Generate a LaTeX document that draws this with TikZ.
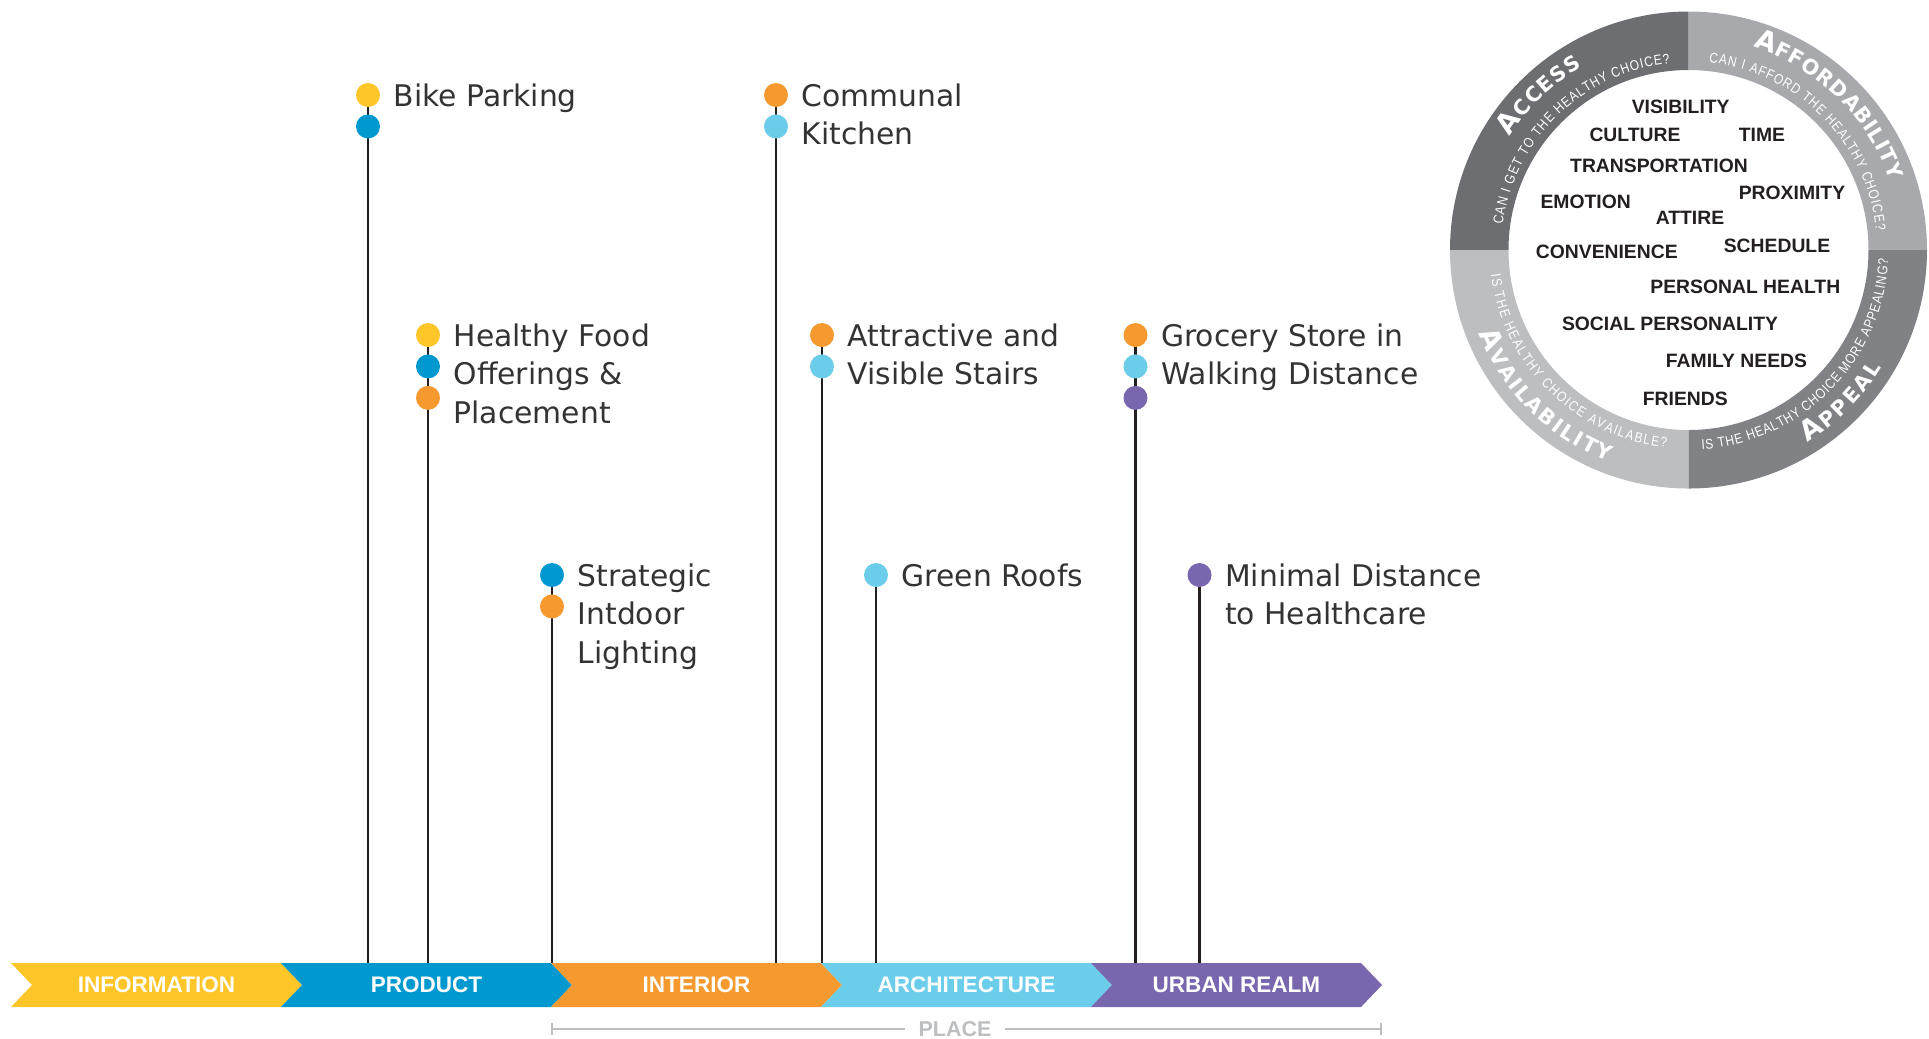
\documentclass[tikz,border=0pt]{standalone}
\usepackage{fontspec}
\setmainfont{DejaVu Sans}
\newfontfamily\barfont{Liberation Sans}
\newfontfamily\askfont{Liberation Sans}[FakeStretch=0.85]
\usepackage{xcolor}
\usepackage{tikz}
\usetikzlibrary{positioning,backgrounds,decorations.text}
\definecolor{infoyellow}{HTML}{FFC629}
\definecolor{productblue}{HTML}{0099CF}
\definecolor{interiororange}{HTML}{F6992F}
\definecolor{archblue}{HTML}{6CCDEB}
\definecolor{urbanpurple}{HTML}{7867AE}
\definecolor{textgray}{HTML}{333333}
\definecolor{stemblack}{HTML}{231F20}
\definecolor{placegray}{HTML}{BCBEC0}
\definecolor{accessgray}{HTML}{6D6E71}
\definecolor{affordgray}{HTML}{A7A9AC}
\definecolor{availgray}{HTML}{BCBEC0}
\definecolor{appealgray}{HTML}{808285}
\newcommand{\capbig}{\color{white}\bfseries\fontsize{7.8}{8}\selectfont}
\newcommand{\capsmall}{\color{white}\bfseries\fontsize{5.9}{6}\selectfont}
\newcommand{\asktext}{\color{white}\askfont\fontsize{4}{5}\selectfont}

\begin{document}
\begin{tikzpicture}[x=0.01cm, y=-0.01cm,
    dot/.style={circle, inner sep=0pt, minimum size=0.24cm},
    stem/.style={line width=0.77pt, stemblack},
    tag/.style={anchor=base west, inner sep=0pt, align=left, text=textgray,
        font=\fontsize{8.47}{10.95}\selectfont},
    band/.style={text=white, font=\barfont\bfseries\fontsize{6.4}{7}\selectfont},
    factor/.style={text=stemblack, font=\barfont\bfseries\fontsize{5.5}{6}\selectfont},
    placeline/.style={line width=0.55pt, placegray}]
\useasboundingbox (0,0) rectangle (1929,1038);
\coordinate (barTop) at (0,963);

% Dots and labels (tags sit on the baseline of their last line)
\node[dot, fill=infoyellow] (bike1) at (368,95) {};
\node[dot, fill=productblue, below=0.06cm of bike1] (bike2) {};
\node[tag] (bikeText) at (393,106) {Bike Parking};

\node[dot, fill=infoyellow] (food1) at (428,335) {};
\node[dot, fill=productblue, below=0.06cm of food1] (food2) {};
\node[dot, fill=interiororange, below=0.06cm of food2] (food3) {};
\node[tag] (foodText) at (453,423) {Healthy Food\\Offerings \&\\Placement};

\node[dot, fill=productblue] (light1) at (552,575) {};
\node[dot, fill=interiororange, below=0.06cm of light1] (light2) {};
\node[tag] (lightText) at (577,663) {Strategic\\Intdoor\\Lighting};

\node[dot, fill=interiororange] (kitchen1) at (776,95) {};
\node[dot, fill=archblue, below=0.06cm of kitchen1] (kitchen2) {};
\node[tag] (kitchenText) at (801,144.5) {Communal\\Kitchen};

\node[dot, fill=interiororange] (stairs1) at (822,335) {};
\node[dot, fill=archblue, below=0.06cm of stairs1] (stairs2) {};
\node[tag] (stairsText) at (847,384.5) {Attractive and\\Visible Stairs};

\node[dot, fill=archblue] (roofs1) at (876,575) {};
\node[tag] (roofsText) at (901,586) {Green Roofs};

\node[dot, fill=interiororange] (grocery1) at (1135.5,335) {};
\node[dot, fill=archblue, below=0.06cm of grocery1] (grocery2) {};
\node[dot, fill=urbanpurple, below=0.06cm of grocery2] (grocery3) {};
\node[tag] (groceryText) at (1160.5,384.5) {Grocery Store in\\Walking Distance};

\node[dot, fill=urbanpurple] (clinic1) at (1199.5,575) {};
\node[tag] (clinicText) at (1224.5,624.5) {Minimal Distance\\to Healthcare};

% Stems down to the bar
\begin{scope}[on background layer]
\foreach \s in {bike1,food1,light1,kitchen1,stairs1,roofs1,grocery1,clinic1}
    \draw[stem] (\s.center) -- (\s |- barTop);
\end{scope}

% Bar segments
\fill[infoyellow] (11,963) -- (281,963) -- (302,985) -- (281,1007) -- (11,1007) -- (32,985) -- cycle;
\fill[productblue] (281,963) -- (551,963) -- (572,985) -- (551,1007) -- (281,1007) -- (302,985) -- cycle;
\fill[interiororange] (551,963) -- (821,963) -- (842,985) -- (821,1007) -- (551,1007) -- (572,985) -- cycle;
\fill[archblue] (821,963) -- (1091,963) -- (1112,985) -- (1091,1007) -- (821,1007) -- (842,985) -- cycle;
\fill[urbanpurple] (1091,963) -- (1361,963) -- (1382,985) -- (1361,1007) -- (1091,1007) -- (1112,985) -- cycle;
\node[band] (info) at (156.5,985) {INFORMATION};
\node[band] (product) at (426.5,985) {PRODUCT};
\node[band] (interior) at (696.5,985) {INTERIOR};
\node[band] (architecture) at (966.5,985) {ARCHITECTURE};
\node[band] (urban) at (1236.5,985) {URBAN REALM};

% Place bracket
\coordinate (placeL) at (552,1029);
\coordinate (placeR) at (1381,1029);
\node[text=placegray, inner xsep=3.8pt, inner ysep=0pt,
      font=\barfont\bfseries\fontsize{6.1}{7}\selectfont] (place) at (955,1029) {PLACE};
\draw[placeline] (placeL) -- (place);
\draw[placeline] (place) -- (placeR);
\draw[placeline] (552,1023) -- (552,1035);
\draw[placeline] (1381,1023) -- (1381,1035);

% Wheel
\begin{scope}[shift={(1688.5,250)}, y=0.01cm]
\fill[accessgray] (180:180) arc[start angle=180, end angle=90, radius=180] -- (90:238.5) arc[start angle=90, end angle=180, radius=238.5] -- cycle;
\fill[affordgray] (90:180) arc[start angle=90, end angle=0, radius=180] -- (0:238.5) arc[start angle=0, end angle=90, radius=238.5] -- cycle;
\fill[availgray] (270:180) arc[start angle=270, end angle=180, radius=180] -- (180:238.5) arc[start angle=180, end angle=270, radius=238.5] -- cycle;
\fill[appealgray] (360:180) arc[start angle=360, end angle=270, radius=180] -- (270:238.5) arc[start angle=270, end angle=360, radius=238.5] -- cycle;

\path[decorate, decoration={text along path, text align=fit to path,
    text={|\capbig|A|\capsmall|CCESS}}]
    (147.6:212) arc[start angle=147.6, end angle=120.2, radius=212];
\path[decorate, decoration={text along path, text align=fit to path,
    text={|\asktext|CAN I GET TO THE HEALTHY CHOICE?}}]
    (172.2:187.5) arc[start angle=172.2, end angle=95.6, radius=187.5];
\path[decorate, decoration={text along path, text align=fit to path,
    text={|\capbig|A|\capsmall|FFORDABILITY}}]
    (72.4:213) arc[start angle=72.4, end angle=19.1, radius=213];
\path[decorate, decoration={text along path, text align=fit to path,
    text={|\asktext|CAN I AFFORD THE HEALTHY CHOICE?}}]
    (83.8:188.5) arc[start angle=83.8, end angle=5.8, radius=188.5];
\path[decorate, decoration={text along path, text align=fit to path,
    text={|\capbig|A|\capsmall|VAILABILITY}}]
    (201.6:226) arc[start angle=201.6, end angle=249.3, radius=226];
\path[decorate, decoration={text along path, text align=fit to path,
    text={|\asktext|IS THE HEALTHY CHOICE AVAILABLE?}}]
    (187:199) arc[start angle=187, end angle=263.7, radius=199];
\path[decorate, decoration={text along path, text align=fit to path,
    text={|\capbig|A|\capsmall|PPEAL}}]
    (301.6:226) arc[start angle=301.6, end angle=328.6, radius=226];
\path[decorate, decoration={text along path, text align=fit to path,
    text={|\asktext|IS THE HEALTHY CHOICE MORE APPEALING?}}]
    (273.8:200) arc[start angle=273.8, end angle=357.4, radius=200];
\end{scope}

% Factors inside the wheel
\node[factor] (visibility) at (1680.7,107) {VISIBILITY};
\node[factor] (culture) at (1635,135) {CULTURE};
\node[factor] (time) at (1762,135) {TIME};
\node[factor] (transport) at (1659,165.7) {TRANSPORTATION};
\node[factor] (proximity) at (1792,193) {PROXIMITY};
\node[factor] (emotion) at (1585.7,202) {EMOTION};
\node[factor] (attire) at (1690,217.7) {ATTIRE};
\node[factor] (convenience) at (1606.8,252.3) {CONVENIENCE};
\node[factor] (schedule) at (1777,245.7) {SCHEDULE};
\node[factor] (health) at (1745.3,286.7) {PERSONAL HEALTH};
\node[factor] (social) at (1670,324) {SOCIAL PERSONALITY};
\node[factor] (family) at (1736.5,361) {FAMILY NEEDS};
\node[factor] (friends) at (1685.3,399) {FRIENDS};
\end{tikzpicture}
\end{document}
